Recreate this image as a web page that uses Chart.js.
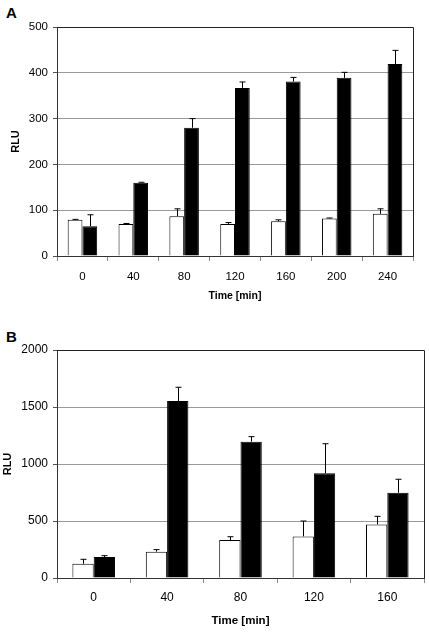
<!DOCTYPE html>
<html>
<head>
<meta charset="utf-8">
<script src="https://cdn.jsdelivr.net/npm/chart.js@4"></script>
<style>
  html, body { margin: 0; padding: 0; background: #fff; }
  body { width: 429px; height: 632px; position: relative; overflow: hidden; font-family: 'Liberation Sans', Arial, sans-serif; }
  .panel { position: absolute; left: 0; width: 429px; }
  .tag { position: absolute; left: 6px; font-weight: bold; font-size: 15px; line-height: 15px; }
</style>
</head>
<body>
<div class="tag" style="top:5px">A</div>
<div class="tag" style="top:329px">B</div>
<div class="panel" style="top:0;height:310px"><canvas id="chartA" width="429" height="310"></canvas></div>
<div class="panel" style="top:310px;height:322px"><canvas id="chartB" width="429" height="322"></canvas></div>
<script>
// panel A
const timesA = ['0', '40', '80', '120', '160', '200', '240'];
const whiteA = [79, 70, 87, 70, 76, 82, 92];
const whiteErrA = [1, 1, 16, 3, 3, 1, 11];
const blackA = [65, 160, 280, 367, 381, 389, 419];
const blackErrA = [25, 1, 20, 13, 9, 12, 30];

// panel B
const timesB = ['0', '40', '80', '120', '160'];
const whiteB = [125, 231, 333, 365, 470];
const whiteErrB = [39, 18, 29, 135, 71];
const blackB = [184, 1553, 1196, 918, 748];
const blackErrB = [12, 120, 44, 260, 118];

const FONT = "'Liberation Sans', Arial, sans-serif";

// draws the upper error bar on every bar, and the box round the plot area
const errorBars = {
    id: 'errorBars',
    afterDatasetsDraw(chart) {
        const ctx = chart.ctx;
        const y = chart.scales.y;
        ctx.save();
        ctx.strokeStyle = '#000';
        ctx.lineWidth = 1;
        chart.data.datasets.forEach((ds, i) => {
            const meta = chart.getDatasetMeta(i);
            meta.data.forEach((bar, j) => {
                const err = ds.errors[j];
                const top = y.getPixelForValue(ds.data[j] + err);
                const x = Math.round(bar.x) + 0.5;
                ctx.beginPath();
                ctx.moveTo(x, bar.y);
                ctx.lineTo(x, top);
                ctx.moveTo(x - 3, top);
                ctx.lineTo(x + 3, top);
                ctx.stroke();
            });
        });
        const a = chart.chartArea;
        ctx.strokeStyle = '#222';
        ctx.beginPath();
        ctx.moveTo(a.left, a.top + 0.5);
        ctx.lineTo(a.right + 0.5, a.top + 0.5);
        ctx.lineTo(a.right + 0.5, a.bottom);
        ctx.stroke();
        ctx.restore();
    }
};

function makeChart(id, labels, white, whiteErr, black, blackErr, opt) {
    const ctx = document.getElementById(id).getContext('2d');
    return new Chart(ctx, {
        type: 'bar',
        data: {
            labels: labels,
            datasets: [
                {
                    data: white,
                    errors: whiteErr,
                    backgroundColor: '#fff',
                    borderColor: '#000',
                    borderWidth: 1
                },
                {
                    data: black,
                    errors: blackErr,
                    backgroundColor: '#000',
                    borderColor: '#000',
                    borderWidth: 1
                }
            ]
        },
        options: {
            responsive: false,
            animation: false,
            events: [],
            layout: { padding: opt.padding },
            datasets: { bar: { categoryPercentage: 0.58, barPercentage: 1 } },
            plugins: { legend: { display: false }, tooltip: { enabled: false } },
            scales: {
                x: {
                    afterFit: s => { s.height = 54; },
                    grid: { drawOnChartArea: false, tickLength: 5, tickColor: '#888' },
                    border: { color: '#333' },
                    ticks: { color: '#000', padding: opt.xPad, font: { family: FONT, size: opt.tick } },
                    title: {
                        display: true,
                        text: 'Time [min]',
                        color: '#000',
                        padding: { top: 0, bottom: opt.titlePad },
                        font: { family: FONT, size: opt.titleSize, weight: 'bold' }
                    }
                },
                y: {
                    min: 0,
                    max: opt.max,
                    afterFit: s => { s.width = opt.yWidth; },
                    grid: { color: '#999', tickLength: 4, tickColor: '#555' },
                    border: { color: '#333' },
                    ticks: {
                        stepSize: opt.step,
                        color: '#000',
                        padding: 5,
                        font: { family: FONT, size: opt.tick },
                        callback: v => String(v)
                    },
                    title: {
                        display: true,
                        text: 'RLU',
                        color: '#000',
                        padding: { top: opt.rluPad, bottom: 0 },
                        font: { family: FONT, size: 11, weight: 'bold' }
                    }
                }
            }
        },
        plugins: [errorBars]
    });
}

makeChart('chartA', timesA, whiteA, whiteErrA, blackA, blackErrA, {
    padding: { left: 9, right: 16, top: 27, bottom: 0 },
    yWidth: 48, max: 500, step: 100, tick: 11.5, xPad: 9,
    titleSize: 10.5, titlePad: 7.7, rluPad: 0
});

makeChart('chartB', timesB, whiteB, whiteErrB, blackB, blackErrB, {
    padding: { left: 0, right: 5, top: 40, bottom: 0 },
    yWidth: 57, max: 2000, step: 500, tick: 12, xPad: 7,
    titleSize: 11.5, titlePad: 4.1, rluPad: 1.4
});
</script>
</body>
</html>
